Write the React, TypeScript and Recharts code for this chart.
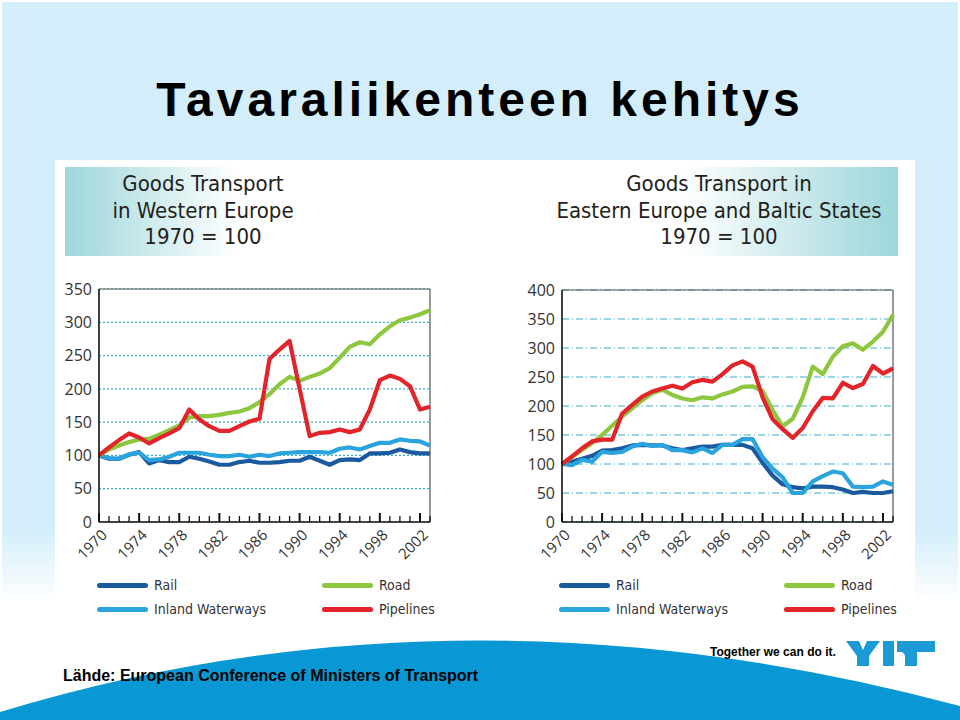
import React from 'react';
import { LineChart, Line, XAxis, YAxis, CartesianGrid, ReferenceLine, Legend } from 'recharts';

const years = [
  1970, 1971, 1972, 1973, 1974, 1975, 1976, 1977, 1978, 1979,
  1980, 1981, 1982, 1983, 1984, 1985, 1986, 1987, 1988, 1989,
  1990, 1991, 1992, 1993, 1994, 1995, 1996, 1997, 1998, 1999,
  2000, 2001, 2002, 2003,
];

// Western Europe, 1970 = 100
const westRail = [100, 95, 95, 101, 105, 88, 93, 90, 90, 98, 95, 91, 86, 86, 90, 92, 89, 89, 90, 92, 92, 98, 92, 86, 93, 94, 93, 103, 103, 104, 109, 105, 103, 103];
const westInland = [100, 96, 95, 102, 104, 93, 94, 98, 104, 104, 104, 101, 99, 99, 101, 98, 101, 99, 103, 104, 105, 105, 105, 104, 110, 112, 109, 114, 119, 119, 124, 122, 121, 115];
const westRoad = [100, 109, 115, 120, 124, 125, 131, 138, 145, 157, 159, 159, 161, 164, 166, 171, 180, 192, 207, 218, 212, 218, 223, 231, 247, 263, 270, 267, 282, 294, 303, 307, 312, 318];
const westPipelines = [100, 112, 123, 133, 127, 118, 126, 133, 141, 169, 154, 144, 137, 137, 144, 151, 155, 245, 259, 272, 200, 129, 134, 135, 139, 135, 139, 169, 213, 220, 215, 204, 169, 173];

// Eastern Europe and Baltic States, 1970 = 100
const eastRail = [100, 104, 109, 114, 123, 124, 127, 132, 133, 132, 132, 127, 124, 127, 130, 130, 133, 133, 133, 127, 102, 80, 65, 60, 58, 61, 61, 60, 56, 50, 52, 50, 50, 53];
const eastInland = [100, 98, 107, 104, 121, 119, 121, 130, 135, 131, 133, 124, 124, 120, 127, 119, 133, 133, 143, 143, 112, 92, 77, 50, 50, 70, 79, 87, 84, 61, 60, 61, 70, 64];
const eastRoad = [100, 112, 124, 136, 150, 166, 182, 196, 210, 222, 228, 219, 213, 210, 215, 213, 220, 225, 233, 234, 226, 193, 165, 178, 215, 268, 255, 285, 303, 308, 297, 311, 328, 357];
const eastPipelines = [100, 113, 127, 139, 142, 142, 187, 202, 216, 225, 230, 235, 230, 241, 245, 242, 255, 270, 277, 268, 215, 177, 160, 145, 162, 191, 214, 213, 240, 231, 238, 269, 256, 265];

const westTicks = [0, 50, 100, 150, 200, 250, 300, 350];
const eastTicks = [0, 50, 100, 150, 200, 250, 300, 350, 400];
const legendOrder = ['Rail', 'Road', 'Inland Waterways', 'Pipelines'];

const SERIES = [
  { key: 'rail', name: 'Rail', color: '#1b5a9e' },
  { key: 'inland', name: 'Inland Waterways', color: '#2ba3dc' },
  { key: 'road', name: 'Road', color: '#8dc63f' },
  { key: 'pipelines', name: 'Pipelines', color: '#e2252b' },
];

const westData = years.map((year, i) => ({
  year,
  rail: westRail[i],
  inland: westInland[i],
  road: westRoad[i],
  pipelines: westPipelines[i],
}));

const eastData = years.map((year, i) => ({
  year,
  rail: eastRail[i],
  inland: eastInland[i],
  road: eastRoad[i],
  pipelines: eastPipelines[i],
}));

const CONDENSED = '"DejaVu Sans Condensed", "DejaVu Sans", sans-serif';
const ARIAL = '"Liberation Sans", Arial, sans-serif';
const AXIS_FONT = '"Open Sans", "Noto Sans", sans-serif';

const YearTick = (props: any) => {
  const { x, y, payload } = props;
  const yr = payload.value;
  const major = (yr - 1970) % 4 === 0;
  return (
    <g>
      <line x1={x} x2={x} y1={y} y2={y - (major ? 9 : 6)} stroke="#111" strokeWidth={major ? 2 : 1.3} />
      {major && (
        <text
          x={x + 9}
          y={y + 14}
          transform={`rotate(-45 ${x + 9} ${y + 14})`}
          textAnchor="end"
          fontSize={15}
          fontFamily={AXIS_FONT}
          fill="#333"
        >
          {yr}
        </text>
      )}
    </g>
  );
};

const renderLegend = (props: any) => {
  const items = props.payload || [];
  return (
    <div style={{ position: 'relative', height: 50, width: 400, fontFamily: CONDENSED }}>
      {legendOrder.map((name, i) => {
        const entry = items.find((e: any) => e.value === name);
        if (!entry) return null;
        const left = 57 + (i % 2) * 225;
        const top = Math.floor(i / 2) * 24 + 3;
        return (
          <div key={name} style={{ position: 'absolute', left, top, height: 20, width: 200 }}>
            <div
              style={{
                position: 'absolute',
                left: 0,
                top: 8,
                width: 51,
                height: 5,
                borderRadius: 3,
                background: entry.color,
              }}
            />
            <span
              style={{
                position: 'absolute',
                left: 57,
                top: 0,
                fontSize: 14,
                lineHeight: '20px',
                color: '#333',
                whiteSpace: 'nowrap',
              }}
            >
              {name}
            </span>
          </div>
        );
      })}
    </div>
  );
};

function Panel({ data, ticks, yMax, dash, left, top, yWidth, width }: any) {
  return (
    <div style={{ position: 'absolute', left, top }}>
      <LineChart width={width} height={360} data={data} margin={{ top: 290 - top - (yMax === 400 ? 0 : 1), right: 20, bottom: 8, left: 0 }}>
        <CartesianGrid vertical={false} stroke="#3aaecb" strokeDasharray={dash} strokeWidth={1.2} />
        <XAxis
          dataKey="year"
          type="number"
          domain={[1970, 2003]}
          ticks={years}
          interval={0}
          tickSize={0}
          tickMargin={0}
          tickLine={false}
          tick={<YearTick />}
          height={50}
          stroke="#111"
          strokeWidth={1.6}
        />
        <YAxis
          domain={[0, yMax]}
          ticks={ticks}
          interval={0}
          width={yWidth}
          tickLine={false}
          tickSize={0}
          tickMargin={7}
          stroke="#111"
          strokeWidth={1.6}
          tick={{ fontSize: 16, fill: '#333', fontFamily: AXIS_FONT }}
        />
        <ReferenceLine y={yMax} stroke="#555" strokeWidth={1.2} />
        <ReferenceLine x={2003} stroke="#555" strokeWidth={1.2} />
        <Legend content={renderLegend} verticalAlign="bottom" height={50} wrapperStyle={{ left: 0, width }} />
        {SERIES.map((s) => (
          <Line
            key={s.key}
            type="linear"
            dataKey={s.key}
            name={s.name}
            stroke={s.color}
            strokeWidth={4.2}
            strokeLinejoin="round"
            dot={false}
            activeDot={false}
            isAnimationActive={false}
          />
        ))}
      </LineChart>
    </div>
  );
}

const headerText: React.CSSProperties = {
  position: 'absolute',
  top: 0,
  height: 89,
  fontFamily: CONDENSED,
  fontSize: 22,
  lineHeight: '26.5px',
  color: '#231f20',
  textAlign: 'center',
  paddingTop: 4,
  boxSizing: 'border-box',
};

export default function App() {
  return (
    <div style={{ position: 'absolute', left: 0, top: 0, width: 960, height: 720, background: '#fff', overflow: 'hidden' }}>
      <div
        style={{
          position: 'absolute',
          left: 2,
          top: 2,
          width: 956,
          height: 600,
          background: 'linear-gradient(to bottom, #d3eefa 0%, #d3eefa 88%, #ffffff 100%)',
        }}
      />
      <div
        style={{
          position: 'absolute',
          left: 0,
          top: 72,
          width: 960,
          textAlign: 'center',
          fontFamily: ARIAL,
          fontWeight: 700,
          fontSize: 48,
          letterSpacing: 4,
          color: '#000',
          whiteSpace: 'nowrap',
        }}
      >
        Tavaraliikenteen kehitys
      </div>
      <div style={{ position: 'absolute', left: 55, top: 160, width: 860, height: 480, background: '#fff' }} />

      <div style={{ position: 'absolute', left: 65, top: 167, width: 276, height: 89, background: 'linear-gradient(to right, #9dd6da 0%, #ffffff 62%)' }}>
        <div style={{ ...headerText, left: 0, width: 276 }}>
          Goods Transport
          <br />
          in Western Europe
          <br />
          1970 = 100
        </div>
      </div>
      <div style={{ position: 'absolute', left: 540, top: 167, width: 358, height: 89, background: 'linear-gradient(to right, #ffffff 40%, #9dd6da 100%)' }}>
        <div style={{ ...headerText, left: 0, width: 358 }}>
          Goods Transport in
          <br />
          Eastern Europe and Baltic States
          <br />
          1970 = 100
        </div>
      </div>

      <Panel data={westData} ticks={westTicks} yMax={350} dash="2 2" left={40} top={270} yWidth={59} width={410} />
      <Panel data={eastData} ticks={eastTicks} yMax={400} dash="7 3 1 3" left={502} top={270} yWidth={60} width={411} />

      <svg style={{ position: 'absolute', left: 0, top: 0 }} width={960} height={720}>
        <path d="M0 712 Q 460 572 960 706 L 960 720 L 0 720 Z" fill="#0a98d5" />
        <g fill="#1b9ad6">
          <polygon points="846,641 859,641 863,650 867,641 880,641 869,656 869,666 857,666 857,656" />
          <rect x={883} y={641} width={11} height={25} />
          <path d="M897 641 L935 641 L935 652 L917 652 L917 666 L905 666 L905 657 Q905 652 900 652 L897 652 Z" />
        </g>
      </svg>
      <div
        style={{
          position: 'absolute',
          left: 710,
          top: 645,
          fontFamily: ARIAL,
          fontWeight: 700,
          fontSize: 12,
          color: '#000',
          whiteSpace: 'nowrap',
        }}
      >
        Together we can do it.
      </div>
      <div
        style={{
          position: 'absolute',
          left: 63,
          top: 667,
          fontFamily: ARIAL,
          fontWeight: 700,
          fontSize: 16,
          color: '#000',
          whiteSpace: 'nowrap',
        }}
      >
        Lähde: European Conference of Ministers of Transport
      </div>
    </div>
  );
}
